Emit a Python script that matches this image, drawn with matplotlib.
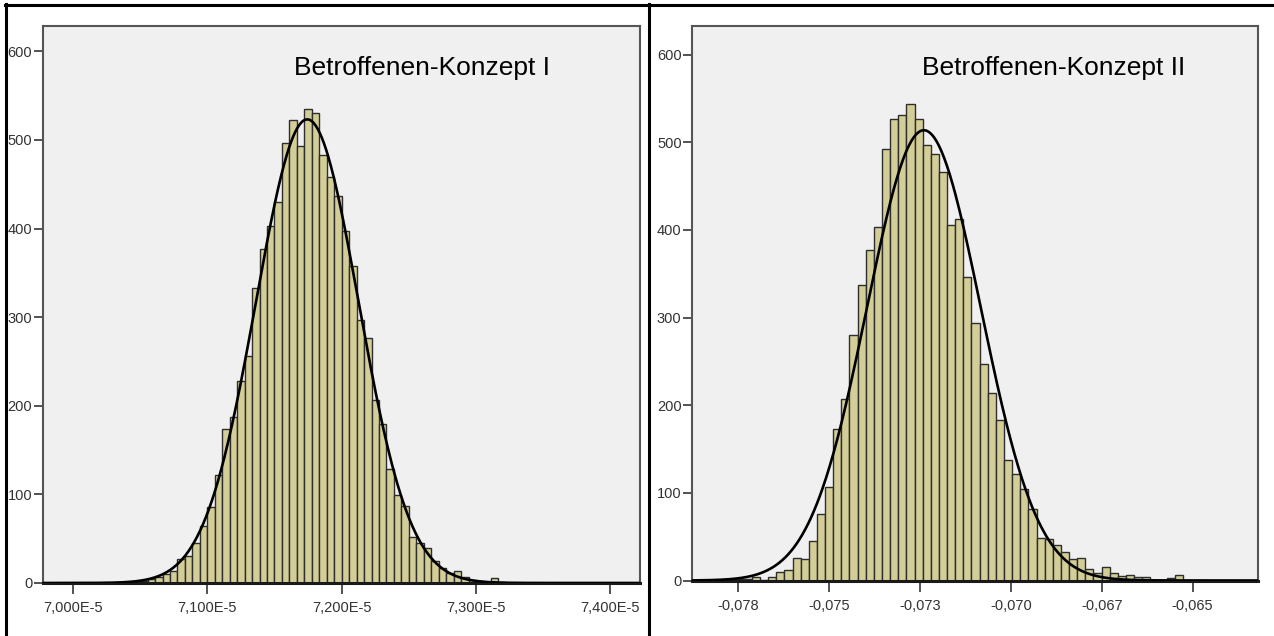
import numpy as np
import matplotlib.pyplot as plt
from matplotlib.lines import Line2D

# Betroffenen-Konzept I (bin counts)
left_title = "Betroffenen-Konzept I"
left_bin_width = 1e-6 / 18
left_first_edge = 7.1e-5 - 12 * left_bin_width
left_counts = [0.5, 1, 1.5, 2.5, 4, 7, 10, 14, 27, 31, 45, 64, 86,
               122, 174, 187, 228, 256, 333, 377, 403, 430, 497, 523, 493, 535,
               531, 483, 458, 437, 397, 358, 297, 277, 206, 180, 129,
               99, 87, 52, 45, 39, 25, 17, 11, 14, 7, 3, 2, 1, 6, 1]
left_xticks = [7.0e-5, 7.1e-5, 7.2e-5, 7.3e-5, 7.4e-5]
left_xlabels = ["7,000E-5", "7,100E-5", "7,200E-5", "7,300E-5", "7,400E-5"]
left_xlim = (6.9775e-5, 7.422e-5)
left_ylim = (0, 629)

# Betroffenen-Konzept II
right_title = "Betroffenen-Konzept II"
right_bin_width = 2.2384e-4
right_first_edge = -0.078696
right_counts = [1, 0, 0, 0, 0.5, 2, 2, 4.5, 1, 4.5, 10, 12, 26, 24, 45, 76,
                107, 173, 207, 280, 337, 377, 403, 492, 526, 531, 544, 526,
                497, 487, 466, 405, 412, 346, 294, 247, 214, 183, 138, 122,
                104, 82, 49, 47, 41, 32, 25, 26, 13.5, 8, 15, 8, 5, 6, 3.5,
                3.5, 1, 1, 3, 6, 1, 0.5, 0.5]
right_xticks = [-0.0775, -0.075, -0.0725, -0.070, -0.0675, -0.065]
right_xlabels = ["-0,078", "-0,075", "-0,073", "-0,070", "-0,067", "-0,065"]
right_xlim = (-0.078777, -0.0632)
right_ylim = (0, 633)

yticks = [0, 100, 200, 300, 400, 500, 600]

W, H = 1274, 636
fig = plt.figure(figsize=(W / 100, H / 100), dpi=100)
fig.patch.set_facecolor("white")
plt.rcParams['font.family'] = ['Liberation Sans', 'DejaVu Sans']


def draw_panel(ax, first_edge, width, counts, xticks, xlabels, xlim, ylim, title, title_x, title_y):
    counts = np.array(counts, dtype=float)
    edges = first_edge + width * np.arange(len(counts))
    ax.set_facecolor("#f0f0f0")
    ax.bar(edges, counts, width=width, align="edge", color="#d3ce97",
           edgecolor="#2e2e2e", linewidth=1.0, zorder=2)

    # fitted normal curve, as SPSS draws it
    centers = edges + width / 2
    n = counts.sum()
    mean = (centers * counts).sum() / n
    sd = np.sqrt(((centers - mean) ** 2 * counts).sum() / (n - 1))
    xs = np.linspace(xlim[0], xlim[1], 600)
    ys = n * width / (sd * np.sqrt(2 * np.pi)) * np.exp(-0.5 * ((xs - mean) / sd) ** 2)
    ax.plot(xs, ys, color="black", linewidth=1.9, zorder=3)

    ax.set_xlim(xlim)
    ax.set_ylim(ylim)
    ax.set_xticks(xticks, xlabels)
    ax.set_yticks(yticks, [str(v) for v in yticks])
    for s in ["left", "top", "right"]:
        ax.spines[s].set_color("#555555")
        ax.spines[s].set_linewidth(1.5)
    ax.spines["bottom"].set_color("#1a1a1a")
    ax.spines["bottom"].set_linewidth(2.2)
    ax.tick_params(axis="y", direction="out", length=6.5, width=1.3, color="#444444",
                   pad=1, labelsize=10.5, labelcolor="#333333")
    ax.tick_params(axis="x", direction="out", length=8, width=1.3, color="#444444",
                   pad=5, labelsize=10.5, labelcolor="#333333")
    ax.text(title_x, title_y, title, transform=ax.transAxes, fontsize=19,
            color="black", ha="left", va="center")


ax1 = fig.add_axes([42.7 / W, 1 - 583 / H, (640 - 42.7) / W, (583 - 25.7) / H])
draw_panel(ax1, left_first_edge, left_bin_width, left_counts, left_xticks,
           left_xlabels, left_xlim, left_ylim, left_title,
           (294 - 42.7) / (640 - 42.7), (583 - 68) / (583 - 25.7))

ax2 = fig.add_axes([692 / W, 1 - 580.5 / H, (1258 - 692) / W, (580.5 - 25.6) / H])
draw_panel(ax2, right_first_edge, right_bin_width, right_counts, right_xticks,
           right_xlabels, right_xlim, right_ylim, right_title,
           (921.6 - 692) / (1258 - 692), (580.5 - 68) / (580.5 - 25.6))

# table cell borders around the two pictures
for x in [5.5, 649]:
    fig.add_artist(Line2D([x / W, x / W], [0, 1 - 4 / H], color="black", linewidth=2.2))
fig.add_artist(Line2D([4.5 / W, 1], [1 - 4.5 / H, 1 - 4.5 / H], color="black", linewidth=2.2))

fig.savefig("out.png", dpi=100)
